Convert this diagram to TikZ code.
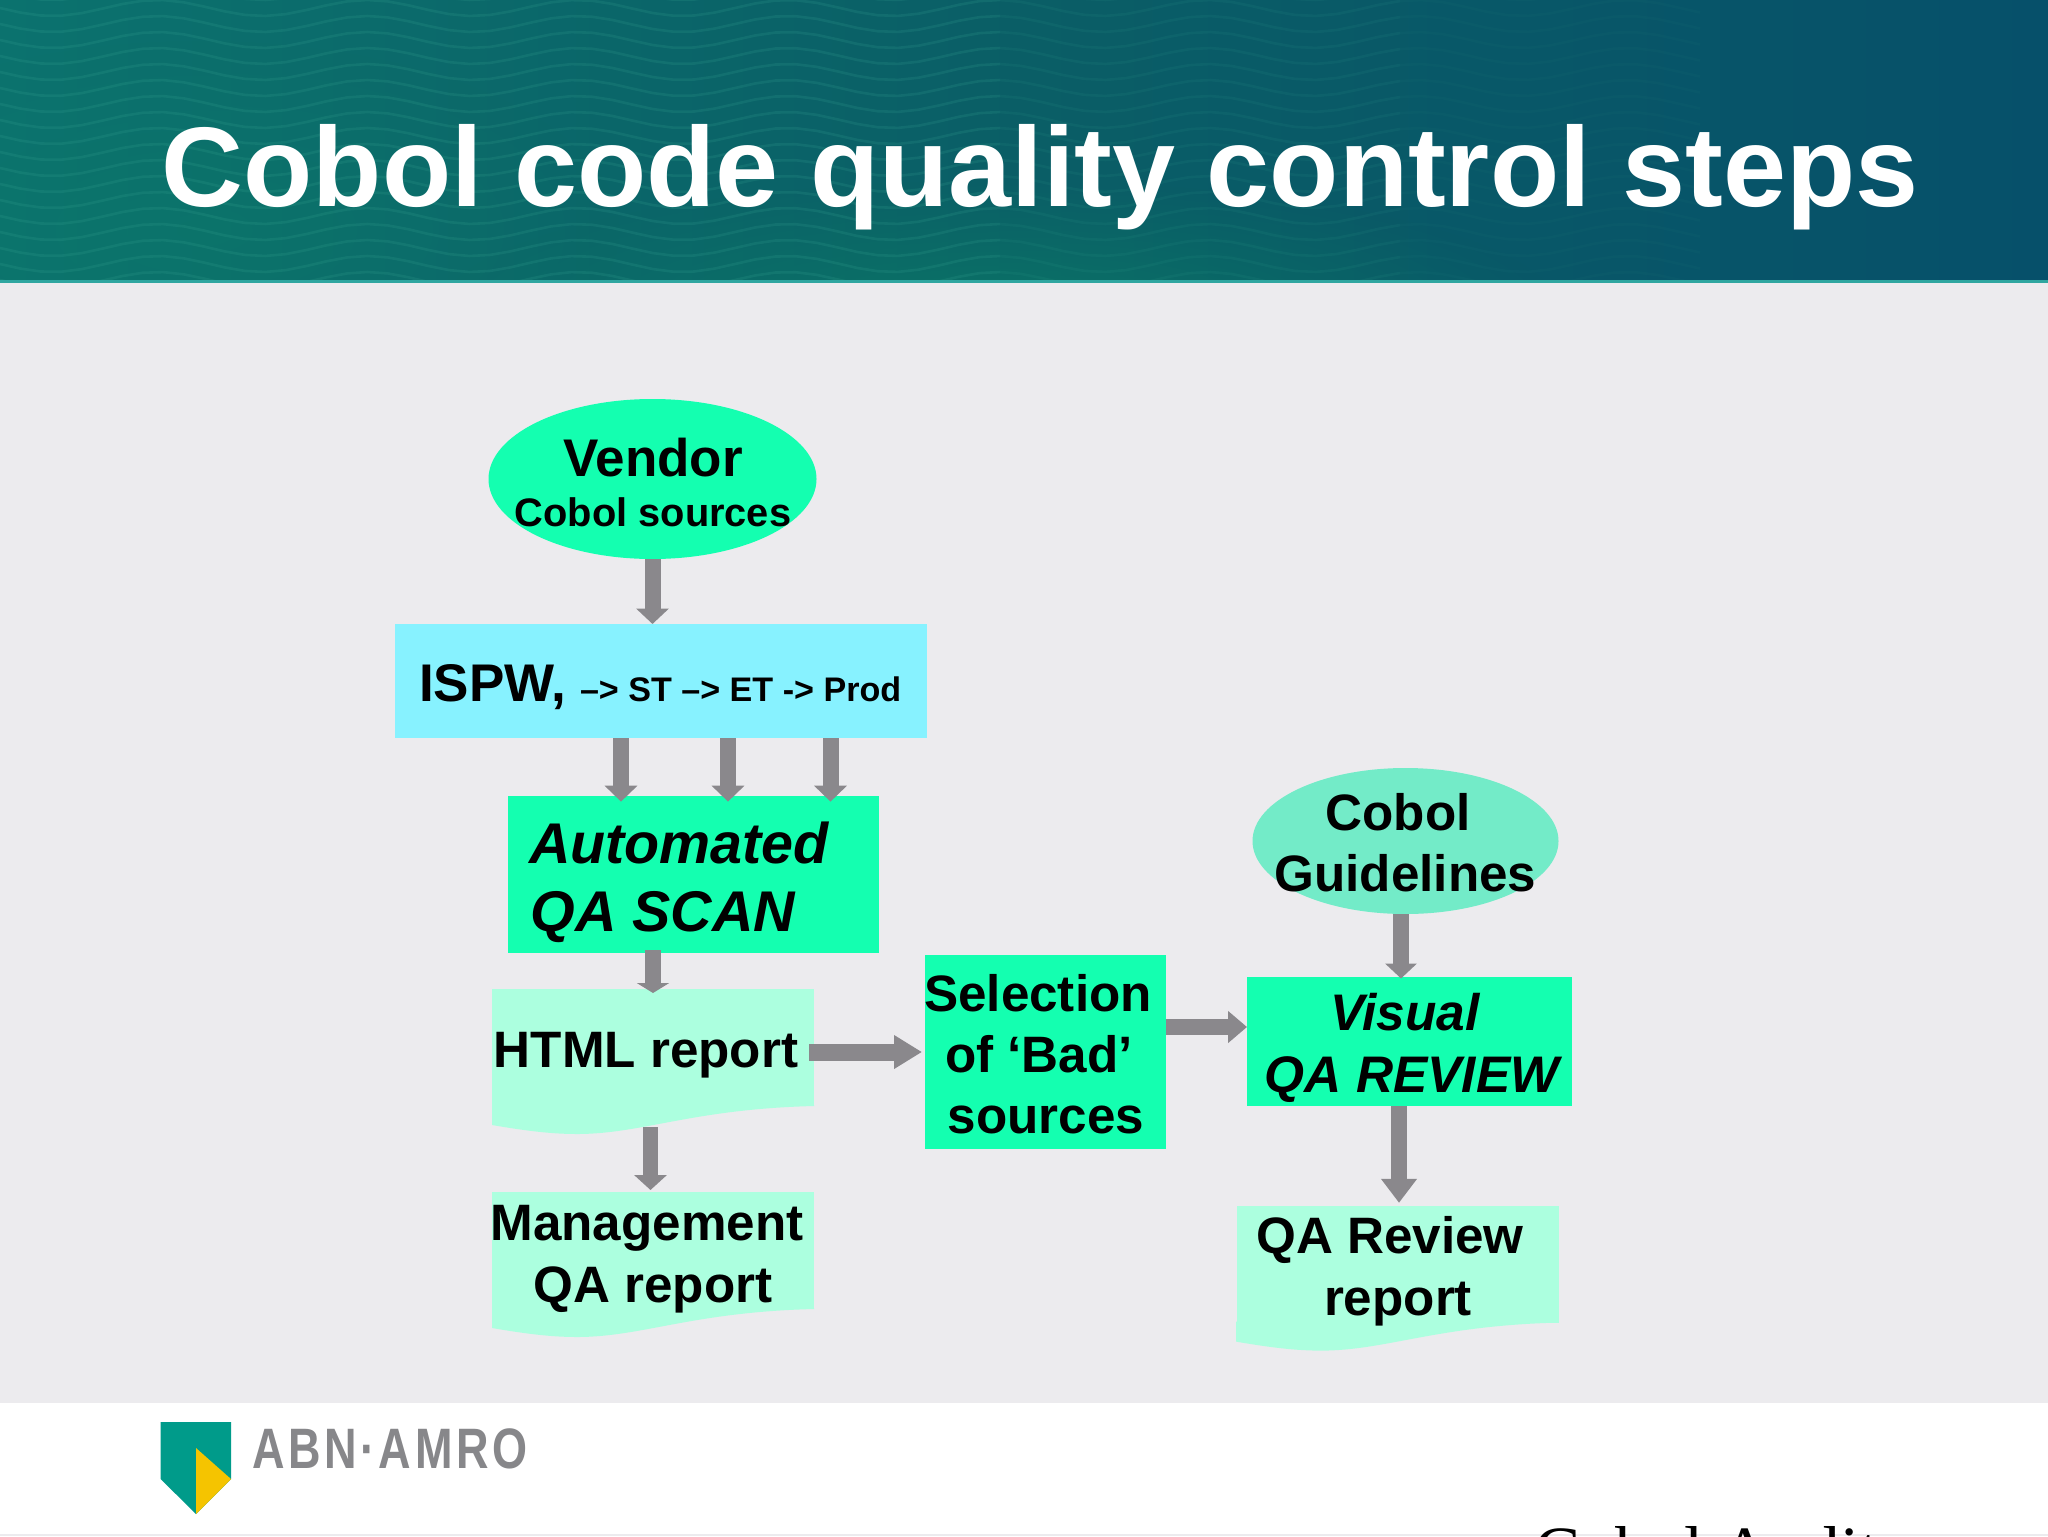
\documentclass[tikz,border=0pt]{standalone}
\usepackage{fontspec}
\setmainfont{Liberation Sans}
\newfontfamily\timesf{Liberation Serif}
\newfontfamily\abnf[LetterSpace=8]{Liberation Sans}
\usetikzlibrary{shapes.geometric,arrows.meta,fadings}
\tikzfading[name=softblob,inner color=transparent!0,outer color=transparent!100]
\definecolor{bodybg}{HTML}{ECEBEE}
\definecolor{strong}{HTML}{14FFB0}
\definecolor{soft}{HTML}{ACFFDF}
\definecolor{ispwc}{HTML}{87F2FF}
\definecolor{guide}{HTML}{73EBC8}
\definecolor{arrowc}{HTML}{8A888C}
\definecolor{logoteal}{HTML}{009B8A}
\definecolor{logoyel}{HTML}{F5C400}
\definecolor{logogray}{HTML}{87878A}
\definecolor{hdleft}{HTML}{0B726E}
\definecolor{hdmid}{HTML}{0A5E66}
\definecolor{hdright}{HTML}{06506A}
\definecolor{hdwave}{HTML}{3FB09A}
\definecolor{hdline}{HTML}{2FA6A0}
\definecolor{hdgreen}{HTML}{0C8066}
\tikzset{
  boxnode/.style={rectangle,inner sep=0pt,outer sep=0pt,fill=strong},
  ellnode/.style={ellipse,inner sep=0pt,outer sep=0pt,fill=strong},
  docnode/.style={rectangle,inner sep=0pt,outer sep=0pt,fill=soft,minimum width=161pt,minimum height=58.5pt},
  lbl/.style={anchor=base,inner sep=0pt,outer sep=0pt,font=\bfseries\fontsize{25.6}{25.6}\selectfont,text=black},
  lblit/.style={lbl,font=\bfseries\itshape\fontsize{25.7}{25.7}\selectfont},
  lblbig/.style={lbl,font=\bfseries\itshape\fontsize{28.7}{28.7}\selectfont},
  blockarrow/.style n args={3}{draw=arrowc,line width=#1,-{Triangle[width=#2,length=#3,fill=arrowc]},line cap=butt},
  docwave/.pic={\fill[soft] (0,19) .. controls (35,25) and (60,28) .. (85,28) .. controls (150,28) and (200,3) .. (322,0) -- (322,-1) -- (0,-1) -- cycle;}
}
\begin{document}
\begin{tikzpicture}[x=0.5pt,y=-0.5pt]
\useasboundingbox (0,0) rectangle (2048,1536);
% backgrounds
\fill[white] (0,0) rectangle (2048,1536);
\fill[bodybg] (0,282) rectangle (2048,1403);
\fill[bodybg] (0,1534) rectangle (2048,1536);
\shade[left color=hdleft,right color=hdright,middle color=hdmid] (0,0) rectangle (2048,281);
\begin{scope}
\clip (0,0) rectangle (2048,281);
\fill[hdgreen,path fading=softblob,fit fading=true,opacity=.6] (1000,310) ellipse [x radius=560,y radius=130];
\fill[hdgreen,path fading=softblob,fit fading=true,opacity=.3] (200,230) ellipse [x radius=420,y radius=190];
\foreach \r in {0,...,18}{
  \draw[hdwave,opacity=.16,line width=1.3pt] plot[domain=0:1000,samples=50] (\x,{\r*16-8+8*sin(1.7143*\x)});
  \draw[hdwave,opacity=.09,line width=1.3pt] plot[domain=1000:1400,samples=20] (\x,{\r*16-8+8*sin(1.7143*\x)});
  \draw[hdwave,opacity=.04,line width=1.3pt] plot[domain=1400:1700,samples=15] (\x,{\r*16-8+8*sin(1.7143*\x)});
}
\end{scope}
\fill[hdline] (0,280) rectangle (2048,283);
\node[lbl,font=\bfseries\fontsize{56.65}{56.65}\selectfont,text=white] (title) at (1040,206) {Cobol code quality control steps};
% shapes
\node[ellnode,minimum width=164pt,minimum height=80pt] (vendor) at (652.5,479) {};
\node[boxnode,fill=ispwc,minimum width=266pt,minimum height=57pt] (ispw) at (661,681) {};
\node[boxnode,minimum width=185.5pt,minimum height=78.85pt] (scan) at (693.5,874.5) {};
\node[docnode] (html) at (653,1047.5) {};
\pic at (492,1106) {docwave};
\node[docnode] (mgmt) at (653,1250.5) {};
\pic at (492,1309) {docwave};
\node[boxnode,minimum width=120.9pt,minimum height=97pt] (select) at (1045.5,1052) {};
\node[ellnode,fill=guide,minimum width=153pt,minimum height=73pt] (cobol) at (1405.5,841) {};
\node[boxnode,minimum width=162.5pt,minimum height=64.5pt] (visual) at (1409.5,1041) {};
\node[docnode] (qa) at (1397.5,1264.3) {};
\pic at (1236,1322.6) {docwave};
% connectors
\draw[blockarrow={8pt}{16pt}{7.75pt}] (vendor.south) -- ([xshift=-4.25pt]ispw.north);
\draw[blockarrow={8pt}{16pt}{8pt}] ([xshift=-20pt]ispw.south) -- ([xshift=-36.25pt,yshift=-3pt]scan.north);
\draw[blockarrow={8pt}{16pt}{8pt}] ([xshift=33.5pt]ispw.south) -- ([xshift=17.25pt,yshift=-3pt]scan.north);
\draw[blockarrow={8pt}{16pt}{8pt}] ([xshift=84.75pt]ispw.south) -- ([xshift=68.5pt,yshift=-3pt]scan.north);
\draw[blockarrow={8pt}{16pt}{5pt}] ([xshift=-20.25pt,yshift=1.65pt]scan.south) -- ([yshift=-2pt]html.north);
\draw[blockarrow={7.25pt}{16pt}{7.5pt}] ([xshift=-1.25pt,yshift=-10.5pt]html.south) -- ([xshift=-1.25pt,yshift=1pt]mgmt.north);
\draw[blockarrow={8.5pt}{16pt}{14pt}] ([xshift=-2.5pt,yshift=-2.25pt]html.east) -- ([xshift=-1.3pt]select.west);
\draw[blockarrow={8pt}{15.5pt}{9.5pt}] ([yshift=12.5pt]select.east) -- ([yshift=7pt]visual.west);
\draw[blockarrow={8pt}{15.5pt}{7.5pt}] ([xshift=-2.25pt]cobol.south) -- ([xshift=-4.25pt,yshift=-1pt]visual.north);
\draw[blockarrow={8.25pt}{17.25pt}{12pt}] ([xshift=-5.25pt]visual.south) -- ([xshift=.75pt,yshift=1.5pt]qa.north);
% labels
\node[lbl,font=\bfseries\fontsize{26.5}{26.5}\selectfont] (vendorA) at (653,476) {Vendor};
\node[lbl,font=\bfseries\fontsize{19.9}{19.9}\selectfont] (vendorB) at (653,526) {Cobol sources};
\node[lbl,anchor=base west,font=\bfseries\fontsize{26.5}{26.5}\selectfont] (ispwA) at (419,701.5) {ISPW,};
\node[lbl,anchor=base west,font=\bfseries\fontsize{17.05}{17.05}\selectfont] (ispwB) at (580,701) {–> ST –> ET -> Prod};
\node[lblbig,anchor=base west] (scanA) at (529,863) {Automated};
\node[lblbig,anchor=base west] (scanB) at (530.5,931) {QA SCAN};
\node[lbl] (htmlT) at (646,1067) {HTML report};
\node[lbl] (mgmtA) at (647,1240) {Management};
\node[lbl] (mgmtB) at (653,1302) {QA report};
\node[lbl] (selA) at (1038,1011) {Selection};
\node[lbl] (selB) at (1039,1072) {of ‘Bad’};
\node[lbl] (selC) at (1046,1133) {sources};
\node[lbl] (cobA) at (1398,830.3) {Cobol};
\node[lbl] (cobB) at (1405.5,891.6) {Guidelines};
\node[lblit] (visA) at (1405,1030) {Visual};
\node[lblit] (visB) at (1412,1092) {QA REVIEW};
\node[lbl] (qaA) at (1390,1253) {QA Review};
\node[lbl] (qaB) at (1398,1315) {report};
% logo
\fill[logoteal] (160.6,1422) -- (231,1422) -- (231,1479) -- (196,1514) -- (160.6,1479) -- cycle;
\fill[logoyel] (196,1448) -- (231,1479) -- (196,1514) -- cycle;
\node[lbl,anchor=base west,text=logogray,font=\abnf\bfseries\fontsize{28.5}{28.5}\selectfont] (abn) at (252,1468) {\scalebox{.79}[1]{ABN·AMRO}};
% footer text cut by the page edge
\begin{scope}
\clip (0,0) rectangle (2048,1536);
\node[anchor=base west,inner sep=0pt,font=\timesf\fontsize{34.6}{34.6}\selectfont] (audit) at (1534,1574) {Cobol Audit};
\end{scope}
\end{tikzpicture}
\end{document}
